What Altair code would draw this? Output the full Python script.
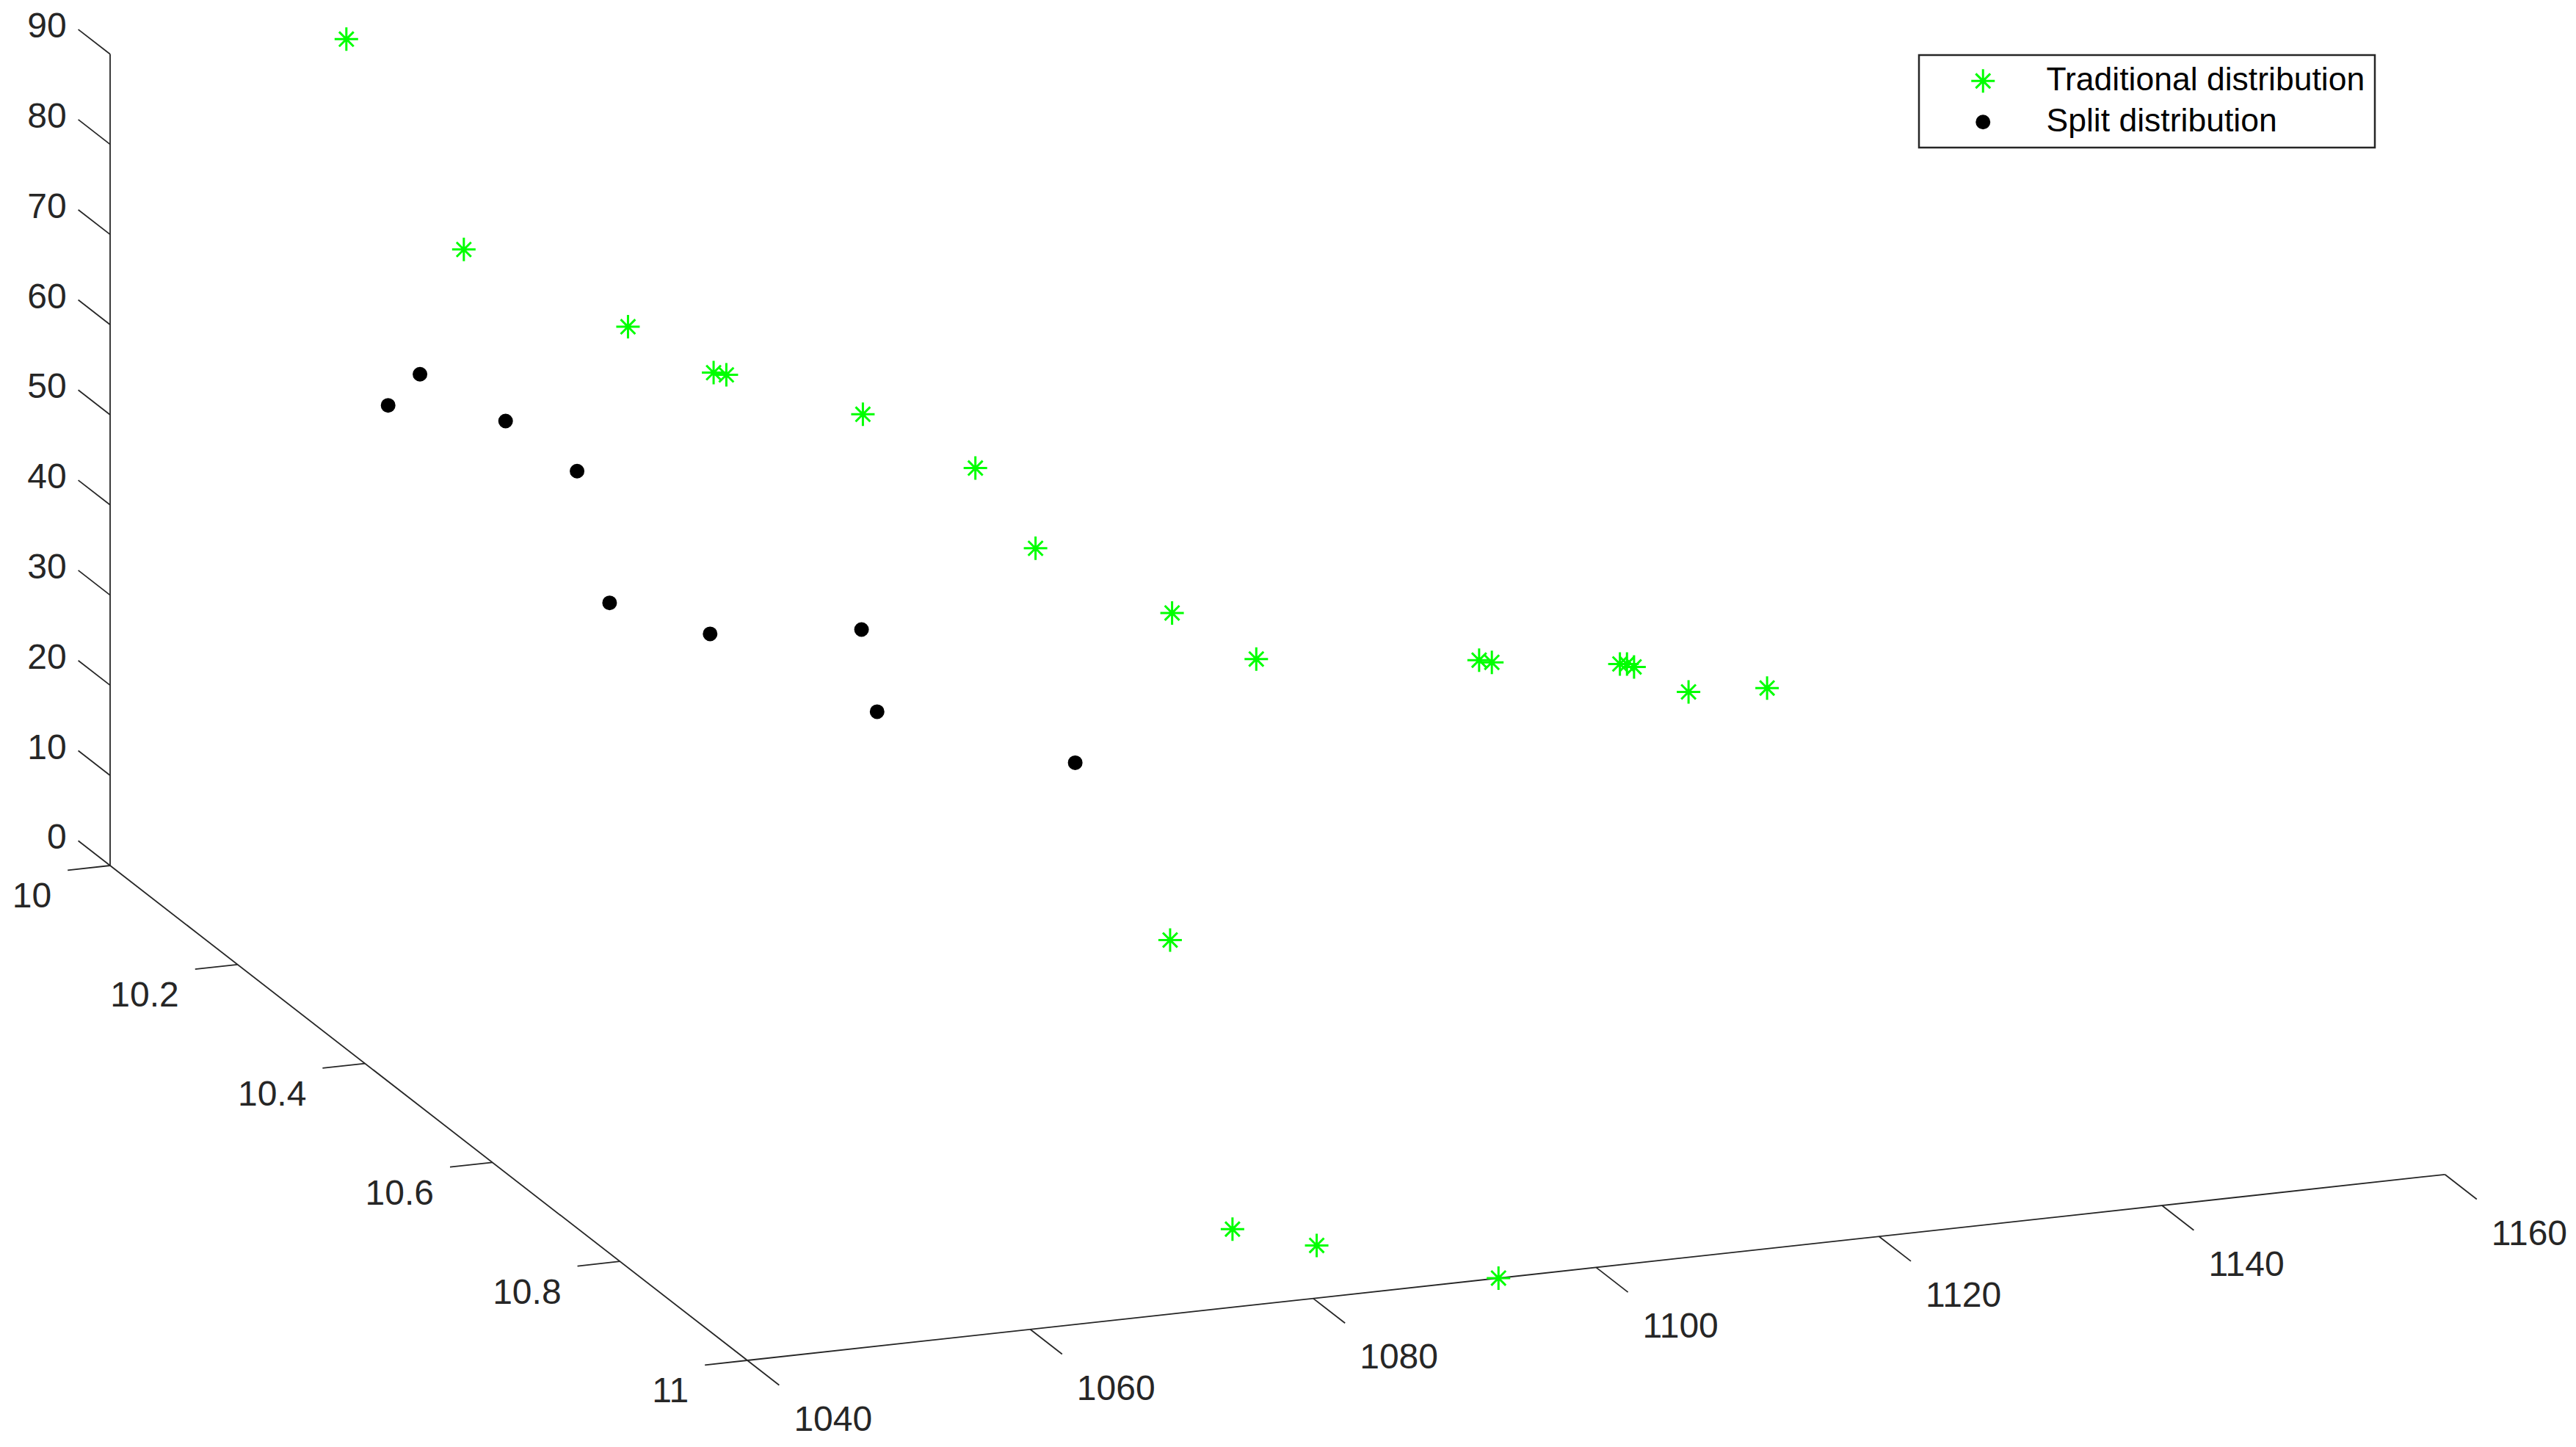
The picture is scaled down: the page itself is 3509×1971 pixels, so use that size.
import altair as alt
import pandas as pd

# --- values ---
trad_x = [1056.7, 1060.5, 1067.6, 1071.4, 1072.3, 1079.7, 1085.4, 1087.4, 1094.8, 1098.5, 1112.0, 1112.9, 1119.7, 1120.2, 1120.7, 1122.3, 1125.6, 1083.4, 1078.8, 1082.5, 1093.1]
trad_y = [10.0, 10.1, 10.2, 10.25, 10.25, 10.3, 10.35, 10.4, 10.45, 10.5, 10.55, 10.55, 10.6, 10.6, 10.6, 10.65, 10.7, 10.7, 10.9, 10.95, 11.0]
trad_z = [88.8, 70.3, 66.0, 63.0, 62.6, 59.7, 55.5, 49.0, 43.3, 40.3, 40.6, 40.2, 41.6, 41.5, 41.1, 40.8, 43.4, 22.7, 2.4, 2.7, 0.0]

split_x = [1057.4, 1057.4, 1061.2, 1064.0, 1066.3, 1068.9, 1075.1, 1076.2, 1085.7]
split_y = [10.1, 10.05, 10.15, 10.2, 10.2, 10.3, 10.4, 10.4, 10.5]
split_z = [57.0, 50.8, 53.9, 50.6, 35.6, 37.2, 42.1, 32.8, 31.0]

x_ticks = [1040, 1060, 1080, 1100, 1120, 1140, 1160]
y_ticks = [10, 10.2, 10.4, 10.6, 10.8, 11]
y_labels = ["10", "10.2", "10.4", "10.6", "10.8", "11"]
z_ticks = [0, 10, 20, 30, 40, 50, 60, 70, 80, 90]

TRAD = "Traditional distribution"
SPLIT = "Split distribution"
series_names = [TRAD, SPLIT]

# --- orthographic view of the 3-D box ---
ORIGIN = (150.0, 1179.0)
EX = (19.27, -2.11)
EY = (868.0, 674.0)
EZ = -12.28


def sx(x, y, z):
    return ORIGIN[0] + EX[0] * (x - 1040) + EY[0] * (y - 10)


def sy(x, y, z):
    return ORIGIN[1] + EX[1] * (x - 1040) + EY[1] * (y - 10) + EZ * z


def seg(a, b):
    return {"a": sx(*a), "b": sy(*a), "c": sx(*b), "d": sy(*b)}


segments = [
    seg((1040, 10, 0), (1040, 10, 90)),
    seg((1040, 10, 0), (1040, 11, 0)),
    seg((1040, 11, 0), (1160, 11, 0)),
]
segments += [seg((1040, 10, z), (1040, 9.95, z)) for z in z_ticks]
segments += [seg((1040, y, 0), (1037, y, 0)) for y in y_ticks]
segments += [seg((x, 11, 0), (x, 11.05, 0)) for x in x_ticks]
seg_df = pd.DataFrame(segments)

z_lab = pd.DataFrame({"px": [sx(1040, 9.95, z) for z in z_ticks],
                      "py": [sy(1040, 9.95, z) for z in z_ticks],
                      "t": [str(z) for z in z_ticks]})
y_lab = pd.DataFrame({"px": [sx(1037, y, 0) for y in y_ticks],
                      "py": [sy(1037, y, 0) for y in y_ticks],
                      "t": y_labels})
x_lab = pd.DataFrame({"px": [sx(x, 11.05, 0) for x in x_ticks],
                      "py": [sy(x, 11.05, 0) for x in x_ticks],
                      "t": [str(x) for x in x_ticks]})

rows = []
for x, y, z in zip(trad_x, trad_y, trad_z):
    rows.append({"px": sx(x, y, z), "py": sy(x, y, z), "series": TRAD})
for x, y, z in zip(split_x, split_y, split_z):
    rows.append({"px": sx(x, y, z), "py": sy(x, y, z), "series": SPLIT})
pts = pd.DataFrame(rows)

W, H = 3493, 1955
xs = alt.Scale(domain=[8, 8 + W], nice=False, zero=False)
ys = alt.Scale(domain=[8 + H, 8], nice=False, zero=False)
X = alt.X("px:Q", scale=xs, axis=None)
Y = alt.Y("py:Q", scale=ys, axis=None)

AXC = "#262626"
FONT = "Liberation Sans"

rules = alt.Chart(seg_df).mark_rule(color=AXC, strokeWidth=1.8).encode(
    x=alt.X("a:Q", scale=xs, axis=None), y=alt.Y("b:Q", scale=ys, axis=None),
    x2="c:Q", y2="d:Q")


def labels(df, align, dx, dy):
    return alt.Chart(df).mark_text(font=FONT, fontSize=48, color=AXC, align=align,
                                   baseline="middle", dx=dx, dy=dy).encode(x=X, y=Y, text="t:N")


ASTER = "M0,-1L0,1M-1,0L1,0M-0.62,-0.62L0.62,0.62M-0.62,0.62L0.62,-0.62"
sym_leg = alt.Legend(title=None, orient="none", legendX=2606, legendY=67,
                     strokeColor=AXC, fillColor="white", padding=13,
                     labelFont=FONT, labelFontSize=44.5, labelColor="#000000",
                     labelOffset=64, symbolOffset=52, symbolStrokeWidth=3, rowPadding=10,
                     labelLimit=600, symbolOpacity=1, offset=0)

points = alt.Chart(pts).mark_point(filled=True, opacity=1, strokeWidth=3).encode(
    x=X, y=Y,
    shape=alt.Shape("series:N", scale=alt.Scale(domain=series_names, range=[ASTER, "circle"]), legend=sym_leg),
    fill=alt.Fill("series:N", scale=alt.Scale(domain=series_names, range=["#00FF00", "#000000"]), legend=sym_leg),
    stroke=alt.Stroke("series:N", scale=alt.Scale(domain=series_names, range=["#00FF00", "#000000"]), legend=sym_leg),
    size=alt.Size("series:N", scale=alt.Scale(domain=series_names, range=[1024, 289]), legend=sym_leg),
)

chart = alt.layer(
    rules,
    labels(z_lab, "right", -16, -3),
    labels(y_lab, "right", -22, 37),
    labels(x_lab, "left", 20, 48),
    points,
).properties(width=W, height=H, padding=0, autosize=alt.AutoSizeParams(type="none"),
             background="white").configure_view(stroke=None).configure_legend(strokeWidth=2.5)

chart.save("out.html", embed_options={"renderer": "svg", "actions": False})
